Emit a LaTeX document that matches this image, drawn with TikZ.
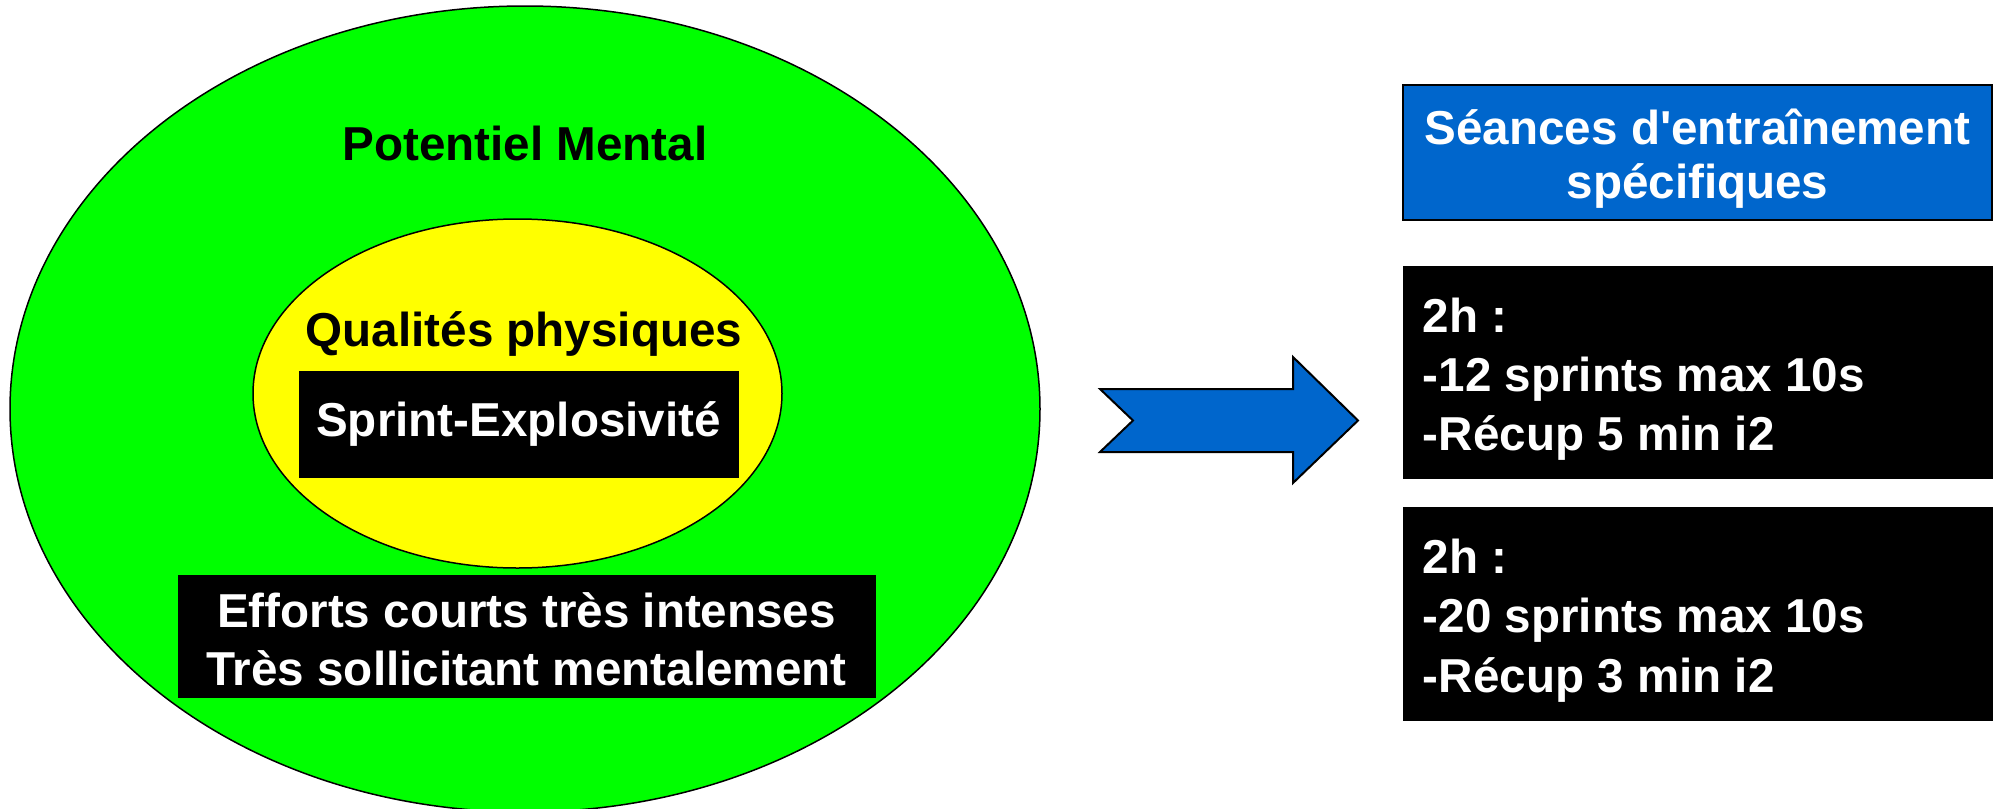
\documentclass[tikz,border=0pt]{standalone}
\usepackage{fontspec}
\setmainfont{Liberation Sans}
\usetikzlibrary{shapes.geometric}
\definecolor{lgreen}{RGB}{0,255,0}
\definecolor{lyellow}{RGB}{255,255,0}
\definecolor{sblue}{RGB}{0,102,204}
\tikzset{
  txt/.style={font=\bfseries\fontsize{23.8}{28.5}\selectfont, inner sep=0pt},
  blackbox/.style={draw=black, fill=black, text=white, inner sep=0pt, line width=0.5pt},
  ell/.style={ellipse, draw=black, line width=0.75pt, inner sep=0pt},
}
\begin{document}
\begin{tikzpicture}[x=0.5pt,y=-0.5pt]
\useasboundingbox (0,0) rectangle (1994,809);
% outer ellipse
\node[ell, fill=lgreen, minimum width=515pt, minimum height=403pt] (outer) at (525,409) {};
\node[txt] (pm) at (525,143) {Potentiel Mental};
% inner ellipse
\node[ell, fill=lyellow, minimum width=264.5pt, minimum height=174.5pt] (inner) at (517.5,393.5) {};
\node[txt] (qp) at (524,334) {Qualités physiques};
\node[blackbox, minimum width=219.5pt, minimum height=53pt] (sprint) at (518.5,424) {};
\node[txt, text=white] (sprintt) at (sprint.center) {Sprint-Explosivité};
\node[blackbox, minimum width=348.5pt, minimum height=61pt] (eff) at (526.5,636) {};
\node[txt, text=white, align=center, font=\bfseries\fontsize{23.8}{29.2}\selectfont] (efft) at ([yshift=-1.5pt]eff.center) {Efforts courts très intenses\\Très sollicitant mentalement};
% arrow
\draw[fill=sblue, draw=black, line width=1pt, line join=miter]
  (1100,389) -- (1293,389) -- (1293,357) -- (1358,420.5) -- (1293,483) -- (1293,452) -- (1100,452) -- (1133,420.5) -- cycle;
% right boxes
\node[draw=black, fill=sblue, line width=0.75pt, minimum width=294.5pt, minimum height=67.5pt, inner sep=0pt] (blue) at (1697.5,152.5) {};
\node[txt, text=white, align=center, font=\bfseries\fontsize{23.8}{27}\selectfont] (bluet) at ([yshift=-3pt]blue.center) {Séances d\textquotesingle entraînement\\spécifiques};
\node[blackbox, minimum width=294.5pt, minimum height=106pt] (s1) at (1697.5,372) {};
\node[txt, text=white, align=left, anchor=west, font=\bfseries\fontsize{23.8}{29.6}\selectfont] (s1t) at ([xshift=10pt,yshift=-3.5pt]s1.west) {2h :\\-12 sprints max 10s\\-Récup 5 min i2};
\node[blackbox, minimum width=294.5pt, minimum height=106.5pt] (s2) at (1697.5,613.5) {};
\node[txt, text=white, align=left, anchor=west, font=\bfseries\fontsize{23.8}{29.6}\selectfont] (s2t) at ([xshift=10pt,yshift=-3.5pt]s2.west) {2h :\\-20 sprints max 10s\\-Récup 3 min i2};
\end{tikzpicture}
\end{document}
